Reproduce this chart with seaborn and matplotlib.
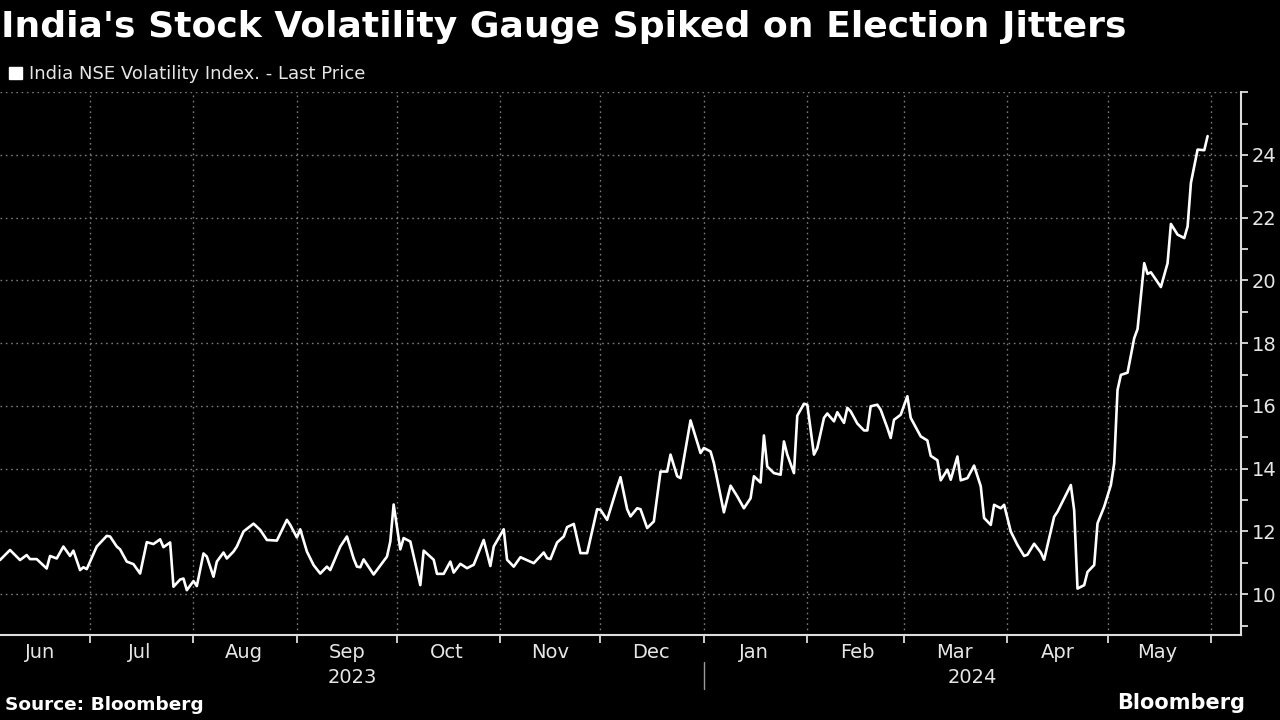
import pandas as pd
import matplotlib.pyplot as plt
import matplotlib.dates as mdates
from matplotlib.patches import Patch
import seaborn as sns

# values (vertices of the line)
dates = [
    "2023-06-04", "2023-06-07", "2023-06-10", "2023-06-12", "2023-06-13", "2023-06-15",
    "2023-06-18", "2023-06-19", "2023-06-21", "2023-06-23", "2023-06-25", "2023-06-26",
    "2023-06-28", "2023-06-29", "2023-06-30", "2023-07-03", "2023-07-06", "2023-07-07",
    "2023-07-09", "2023-07-10", "2023-07-12", "2023-07-14", "2023-07-16", "2023-07-18",
    "2023-07-20", "2023-07-22", "2023-07-23", "2023-07-25", "2023-07-26", "2023-07-28",
    "2023-07-29", "2023-07-30", "2023-08-01", "2023-08-02", "2023-08-04", "2023-08-05",
    "2023-08-07", "2023-08-08", "2023-08-10", "2023-08-11", "2023-08-13", "2023-08-14",
    "2023-08-16", "2023-08-19", "2023-08-21", "2023-08-23", "2023-08-26", "2023-08-29",
    "2023-08-30", "2023-09-01", "2023-09-02", "2023-09-04", "2023-09-06", "2023-09-08",
    "2023-09-10", "2023-09-11", "2023-09-14", "2023-09-16", "2023-09-18", "2023-09-19",
    "2023-09-20", "2023-09-21", "2023-09-24", "2023-09-28", "2023-09-29", "2023-09-30",
    "2023-10-02", "2023-10-03", "2023-10-05", "2023-10-08", "2023-10-09", "2023-10-12",
    "2023-10-13", "2023-10-15", "2023-10-17", "2023-10-18", "2023-10-20", "2023-10-22",
    "2023-10-24", "2023-10-27", "2023-10-29", "2023-10-30", "2023-11-02", "2023-11-03",
    "2023-11-05", "2023-11-07", "2023-11-11", "2023-11-14", "2023-11-15", "2023-11-16",
    "2023-11-18", "2023-11-20", "2023-11-21", "2023-11-23", "2023-11-25", "2023-11-27",
    "2023-11-30", "2023-12-01", "2023-12-03", "2023-12-06", "2023-12-07", "2023-12-09",
    "2023-12-10", "2023-12-12", "2023-12-13", "2023-12-15", "2023-12-17", "2023-12-19",
    "2023-12-21", "2023-12-22", "2023-12-24", "2023-12-25", "2023-12-28", "2023-12-31",
    "2024-01-01", "2024-01-03", "2024-01-04", "2024-01-07", "2024-01-09", "2024-01-11",
    "2024-01-13", "2024-01-15", "2024-01-16", "2024-01-18", "2024-01-19", "2024-01-20",
    "2024-01-22", "2024-01-24", "2024-01-25", "2024-01-26", "2024-01-28", "2024-01-29",
    "2024-01-31", "2024-02-01", "2024-02-03", "2024-02-04", "2024-02-06", "2024-02-07",
    "2024-02-09", "2024-02-10", "2024-02-12", "2024-02-13", "2024-02-14", "2024-02-16",
    "2024-02-18", "2024-02-19", "2024-02-20", "2024-02-22", "2024-02-23", "2024-02-25",
    "2024-02-26", "2024-02-27", "2024-02-29", "2024-03-02", "2024-03-03", "2024-03-06",
    "2024-03-08", "2024-03-09", "2024-03-11", "2024-03-12", "2024-03-14", "2024-03-15",
    "2024-03-17", "2024-03-18", "2024-03-20", "2024-03-22", "2024-03-24", "2024-03-25",
    "2024-03-27", "2024-03-28", "2024-03-30", "2024-03-31", "2024-04-02", "2024-04-04",
    "2024-04-06", "2024-04-07", "2024-04-09", "2024-04-11", "2024-04-12", "2024-04-15",
    "2024-04-16", "2024-04-20", "2024-04-21", "2024-04-22", "2024-04-24", "2024-04-25",
    "2024-04-27", "2024-04-28", "2024-04-30", "2024-05-02", "2024-05-03", "2024-05-04",
    "2024-05-05", "2024-05-07", "2024-05-09", "2024-05-10", "2024-05-12", "2024-05-13",
    "2024-05-14", "2024-05-17", "2024-05-19", "2024-05-20", "2024-05-22", "2024-05-24",
    "2024-05-25", "2024-05-26", "2024-05-28", "2024-05-30", "2024-05-31",
]
vix = [
    11.09, 11.41, 11.09, 11.25, 11.12, 11.12,
    10.82, 11.22, 11.14, 11.52, 11.22, 11.39,
    10.77, 10.86, 10.80, 11.52, 11.86, 11.84,
    11.52, 11.43, 11.04, 10.96, 10.66, 11.66,
    11.60, 11.75, 11.50, 11.65, 10.24, 10.47,
    10.50, 10.13, 10.42, 10.26, 11.30, 11.20,
    10.56, 11.04, 11.33, 11.14, 11.36, 11.52,
    12.00, 12.25, 12.05, 11.73, 11.71, 12.37,
    12.21, 11.81, 12.07, 11.36, 10.93, 10.66,
    10.88, 10.77, 11.52, 11.84, 11.14, 10.88,
    10.86, 11.11, 10.63, 11.20, 11.68, 12.86,
    11.43, 11.79, 11.68, 10.29, 11.39, 11.10,
    10.65, 10.65, 11.04, 10.69, 10.97, 10.83,
    10.94, 11.73, 10.90, 11.52, 12.07, 11.10,
    10.88, 11.18, 10.99, 11.33, 11.15, 11.12,
    11.65, 11.84, 12.14, 12.24, 11.31, 11.31,
    12.71, 12.69, 12.37, 13.41, 13.73, 12.71,
    12.48, 12.74, 12.71, 12.11, 12.32, 13.91,
    13.91, 14.45, 13.76, 13.70, 15.54, 14.50,
    14.66, 14.55, 14.18, 12.61, 13.46, 13.12,
    12.74, 13.06, 13.76, 13.56, 15.06, 14.07,
    13.86, 13.81, 14.87, 14.45, 13.86, 15.69,
    16.07, 16.04, 14.45, 14.66, 15.62, 15.76,
    15.51, 15.80, 15.46, 15.94, 15.83, 15.44,
    15.22, 15.22, 15.99, 16.04, 15.88, 15.30,
    14.98, 15.56, 15.72, 16.31, 15.62, 15.03,
    14.90, 14.41, 14.27, 13.63, 13.97, 13.65,
    14.39, 13.63, 13.70, 14.10, 13.44, 12.43,
    12.21, 12.85, 12.74, 12.85, 12.00, 11.57,
    11.22, 11.26, 11.61, 11.33, 11.10, 12.47,
    12.63, 13.48, 12.68, 10.18, 10.29, 10.71,
    10.93, 12.26, 12.79, 13.48, 14.17, 16.51,
    16.99, 17.06, 18.16, 18.45, 20.55, 20.21,
    20.26, 19.79, 20.55, 21.80, 21.46, 21.35,
    21.72, 23.11, 24.17, 24.15, 24.60,
]
y_ticks = [10, 12, 14, 16, 18, 20, 22, 24, 26]
y_labels = ["10", "12", "14", "16", "18", "20", "22", "24", ""]
years = ["2023", "2024"]
year_spans = [("2023-06-04", "2024-01-01"), ("2024-01-01", "2024-06-10")]

df = pd.DataFrame({"Date": pd.to_datetime(dates), "VIX": vix})

sns.set_style("dark")
plt.rcParams["font.family"] = ["DejaVu Sans"]

fig = plt.figure(figsize=(12.8, 7.2), dpi=100, facecolor="black")
ax = fig.add_axes([0.0, 0.118, 0.9695, 0.754])
ax.set_facecolor("black")

sns.lineplot(data=df, x="Date", y="VIX", color="white", linewidth=1.9, ax=ax)

ax.set_xlim(pd.Timestamp("2023-06-04"), pd.Timestamp("2024-06-10"))
ax.set_ylim(8.7, 26)

# y axis on the right
ax.yaxis.tick_right()
ax.set_yticks(y_ticks)
ax.set_yticklabels(y_labels)
ax.set_yticks(range(9, 26, 2), minor=True)
ax.tick_params(axis="y", which="both", colors="#dddddd", labelcolor="#e6e6e6",
               labelsize=14, length=5, width=1.3, pad=3, right=True, left=False)

# x axis: month boundaries as ticks/grid, month names in the middle
ax.xaxis.set_major_locator(mdates.MonthLocator(bymonthday=1))
ax.xaxis.set_major_formatter(plt.NullFormatter())
ax.xaxis.set_minor_locator(mdates.MonthLocator(bymonthday=16))
ax.xaxis.set_minor_formatter(mdates.DateFormatter("%b"))
ax.tick_params(axis="x", which="major", colors="#dddddd", length=6, width=1.3, bottom=True)
ax.tick_params(axis="x", which="minor", length=0, labelcolor="#e6e6e6", labelsize=14, pad=6)

ax.grid(True, which="major", color="#7a7a7a", linestyle=(0, (1.2, 2.6)), linewidth=1.0)
ax.grid(False, which="minor")

for side in ["top", "left"]:
    ax.spines[side].set_visible(False)
for side in ["bottom", "right"]:
    ax.spines[side].set_color("#dddddd")
    ax.spines[side].set_linewidth(1.5)

ax.set_xlabel("")
ax.set_ylabel("")

# year labels under the months
trans = ax.get_xaxis_transform()
for yr, (s, e) in zip(years, year_spans):
    mid = pd.Timestamp(s) + (pd.Timestamp(e) - pd.Timestamp(s)) / 2
    ax.text(mid, -0.078, yr, transform=trans, ha="center", va="center",
            color="#e6e6e6", fontsize=14)
ax.plot([pd.Timestamp("2024-01-01")] * 2, [-0.05, -0.10], transform=trans,
        color="#999999", linewidth=1, clip_on=False)

fig.text(0.001, 0.962, "India's Stock Volatility Gauge Spiked on Election Jitters",
         color="white", fontsize=26, fontweight="bold", ha="left", va="center")

ax.legend(handles=[Patch(facecolor="white", edgecolor="white")],
          labels=["India NSE Volatility Index. - Last Price"],
          loc="center left", bbox_to_anchor=(0.003, 0.897), bbox_transform=fig.transFigure,
          frameon=False, handlelength=0.7, handleheight=0.7, handletextpad=0.4,
          borderaxespad=0, borderpad=0.3, fontsize=13, labelcolor="#e6e6e6")

fig.text(0.004, 0.021, "Source: Bloomberg", color="white", fontsize=13.3,
         fontweight="bold", ha="left", va="center")
fig.text(0.973, 0.023, "Bloomberg", color="white", fontsize=15,
         fontweight="bold", ha="right", va="center")

fig.savefig("out.png", dpi=100, facecolor="black")
